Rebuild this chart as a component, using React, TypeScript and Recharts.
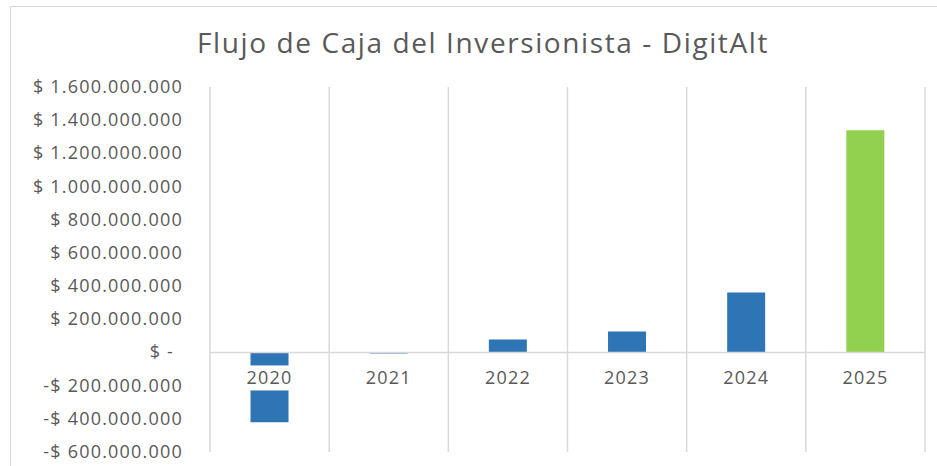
import { BarChart, Bar, XAxis, YAxis, CartesianGrid, ReferenceLine, ReferenceDot, Cell } from "recharts";

const years = ["2020", "2021", "2022", "2023", "2024", "2025"];
const flujo = [-420000000, -7000000, 78000000, 126000000, 361000000, 1340000000];
const yTicks = [-600000000, -400000000, -200000000, 0, 200000000, 400000000, 600000000, 800000000, 1000000000, 1200000000, 1400000000, 1600000000];

const data = years.map((y, i) => ({ year: y, flujo: flujo[i] }));

const FONT = "'Open Sans', sans-serif";
const TEXT = "#595959";
const GRID = "#d9d9d9";

const fmtMiles = (n: number) => String(Math.round(n)).replace(/\B(?=(\d{3})+(?!\d))/g, ".");

const fmtMoney = (v: number) => {
  if (v === 0) return "$ -";
  if (v < 0) return "-$ " + fmtMiles(-v);
  return "$ " + fmtMiles(v);
};

const YTick = (props: any) => {
  const { x, y, payload } = props;
  const v = payload.value as number;
  return (
    <text
      x={v === 0 ? x - 9 : x}
      y={y}
      dy={6}
      textAnchor="end"
      fill={TEXT}
      fontFamily={FONT}
      fontSize={18}
      letterSpacing={1.2}
    >
      {fmtMoney(v)}
    </text>
  );
};

// etiqueta de categoria sobre el eje en cero, con fondo blanco (tapa la barra como en Excel)
const yearLabel = (label: string) => (props: any) => {
  const { cx, cy } = props;
  return (
    <g>
      <rect x={cx - 27} y={cy + 13} width={54} height={25} fill="#fff" />
      <text
        x={cx}
        y={cy + 26}
        dy={6}
        textAnchor="middle"
        fill={TEXT}
        fontFamily={FONT}
        fontSize={18}
        letterSpacing={1.2}
      >
        {label}
      </text>
    </g>
  );
};

export default function App() {
  return (
    <div style={{ position: "absolute", left: 0, top: 0, width: 937, height: 466, overflow: "hidden", background: "#fff" }}>
      <div style={{ position: "absolute", left: 10, top: 6, width: 950, height: 480, border: "1px solid #d9d9d9", boxSizing: "border-box" }} />
      <svg width={937} height={80} style={{ position: "absolute", left: 0, top: 0 }}>
        <text x={483} y={53} textAnchor="middle" fill={TEXT} fontFamily={FONT} fontSize={28} letterSpacing={1.6}>
          Flujo de Caja del Inversionista - DigitAlt
        </text>
      </svg>
      <div style={{ position: "absolute", left: 0, top: 0 }}>
        <BarChart
          width={937}
          height={466}
          data={data}
          margin={{ top: 87, right: 12, bottom: 14, left: 0 }}
          barCategoryGap="34%"
        >
          <CartesianGrid
            horizontal={false}
            stroke={GRID}
            strokeWidth={1.5}
            verticalCoordinatesGenerator={({ offset }: any) =>
              Array.from({ length: years.length + 1 }, (_, i) => offset.left + (i * offset.width) / years.length)
            }
          />
          <XAxis dataKey="year" hide />
          <YAxis
            type="number"
            domain={[-600000000, 1600000000]}
            ticks={yTicks}
            width={210}
            axisLine={false}
            tickLine={false}
            tickSize={0}
            tickMargin={27}
            tick={<YTick />}
            interval={0}
          />
          <ReferenceLine y={0} stroke={GRID} strokeWidth={1.5} />
          <Bar dataKey="flujo" isAnimationActive={false}>
            {data.map((d, i) => (
              <Cell key={d.year} fill={i === data.length - 1 ? "#92d050" : "#2e75b6"} />
            ))}
          </Bar>
          {years.map((y) => (
            <ReferenceDot key={y} x={y} y={0} r={0} shape={yearLabel(y)} ifOverflow="visible" />
          ))}
        </BarChart>
      </div>
    </div>
  );
}
